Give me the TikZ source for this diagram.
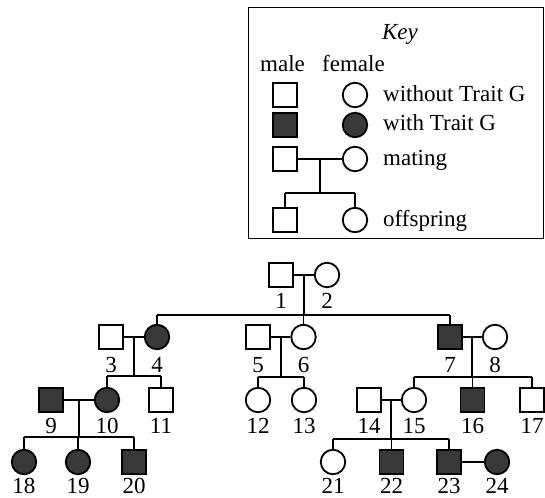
\documentclass[tikz,border=0pt]{standalone}
\usepackage{fontspec}
\setmainfont{Liberation Serif}
\usetikzlibrary{calc}
\begin{document}
\begin{tikzpicture}[x=1pt,y=-1pt,
  male/.style={draw, line width=1.8pt, rectangle, minimum size=24pt, inner sep=0pt},
  female/.style={draw, line width=1.8pt, circle, minimum size=24.5pt, inner sep=0pt},
  aff/.style={fill=black!78},
  link/.style={line width=1.8pt},
  num/.style={anchor=base, inner sep=0pt, text depth=0pt, font=\fontsize{23}{23}\selectfont},
  txt/.style={anchor=base west, inner sep=0pt, font=\fontsize{23}{23}\selectfont}]
\useasboundingbox (0,0) rectangle (545,497);

% ---------- Key ----------
\node (keybox) [draw, line width=1pt, minimum width=295pt, minimum height=230pt, inner sep=0pt] at (395.5,123) {};
\node (keytitle) [num, font=\fontsize{23}{23}\selectfont\itshape] at (400,40) {Key};
\node (kmale) [txt] at (260,72) {male};
\node (kfemale) [txt] at (322,72) {female};
\node (ks1) [male] at (285,95) {};
\node (kc1) [female] at (355,95) {};
\node (kt1) [txt] at (383,102) {without Trait G};
\node (ks2) [male,aff] at (285,125) {};
\node (kc2) [female,aff] at (355,125) {};
\node (kt2) [txt] at (383,131) {with Trait G};
\node (ks3) [male] at (285,159) {};
\node (kc3) [female] at (355,159) {};
\node (kt3) [txt] at (383,165) {mating};
\node (ks4) [male] at (285,220) {};
\node (kc4) [female] at (355,220) {};
\node (kt4) [txt] at (383,226) {offspring};
\draw[link] (ks3) -- (kc3);
\coordinate (km) at ($(ks3.east)!.5!(kc3.west)$);
\coordinate (kb) at (0,193);
\draw[link] (km) -- (km |- kb);
\draw[link] (ks4.north |- kb) -- (kc4.north |- kb);
\draw[link] (ks4.north |- kb) -- (ks4.north);
\draw[link] (kc4.north |- kb) -- (kc4.north);

% ---------- Pedigree ----------
% generation I
\node (n1) [male] at (281,275) {};
\node (n2) [female] at (327,275) {};
% generation II
\node (n3) [male] at (111,337) {};
\node (n4) [female,aff] at (157,337) {};
\node (n5) [male] at (258,337) {};
\node (n6) [female] at (303.5,337) {};
\node (n7) [male,aff] at (450,337) {};
\node (n8) [female] at (495,337) {};
% generation III
\node (n9) [male,aff] at (51,400) {};
\node (n10) [female,aff] at (107,400) {};
\node (n11) [male] at (161,400) {};
\node (n12) [female] at (258,400) {};
\node (n13) [female] at (304,400) {};
\node (n14) [male] at (369,400) {};
\node (n15) [female] at (414,400) {};
\node (n16) [male,aff] at (472.5,400) {};
\node (n17) [male] at (532,400) {};
% generation IV
\node (n18) [female,aff] at (24,462) {};
\node (n19) [female,aff] at (78,462) {};
\node (n20) [male,aff] at (134,462) {};
\node (n21) [female] at (333,462) {};
\node (n22) [male,aff] at (391.5,462) {};
\node (n23) [male,aff] at (449,462) {};
\node (n24) [female,aff] at (497,462) {};

% labels
\foreach \i/\y in {1/308,2/308,3/372,4/372,5/372,6/372,7/372,8/372,
  9/433,10/433,11/433,12/433,13/433,14/433,15/433,16/433,17/433,
  18/493,19/493,20/493,21/493,22/493,23/493,24/493}
  \node (l\i) [num] at (n\i |- 0,\y) {\i};

% matings and sibships
\foreach \a/\b/\s in {1/2/315,3/4/376,5/6/377,7/8/377,9/10/437,14/15/439}{
  \draw[link] (n\a) -- (n\b);
  \coordinate (m\a) at ($(n\a.east)!.5!(n\b.west)$);
  \coordinate (s\a) at (0,\s);
  \draw[link] (m\a) -- (m\a |- s\a);
}
\draw[link] (n23) -- (n24);

\foreach \p/\f/\l/\kids in {1/4/7/{4,6,7}, 3/10/11/{10,11}, 5/12/13/{12,13},
  7/15/17/{15,16,17}, 9/18/20/{18,19,20}, 14/21/23/{21,22,23}}{
  \draw[link] (n\f.north |- s\p) -- (n\l.north |- s\p);
  \foreach \c in \kids
    \draw[link] (n\c.north |- s\p) -- (n\c.north);
}
\end{tikzpicture}
\end{document}
